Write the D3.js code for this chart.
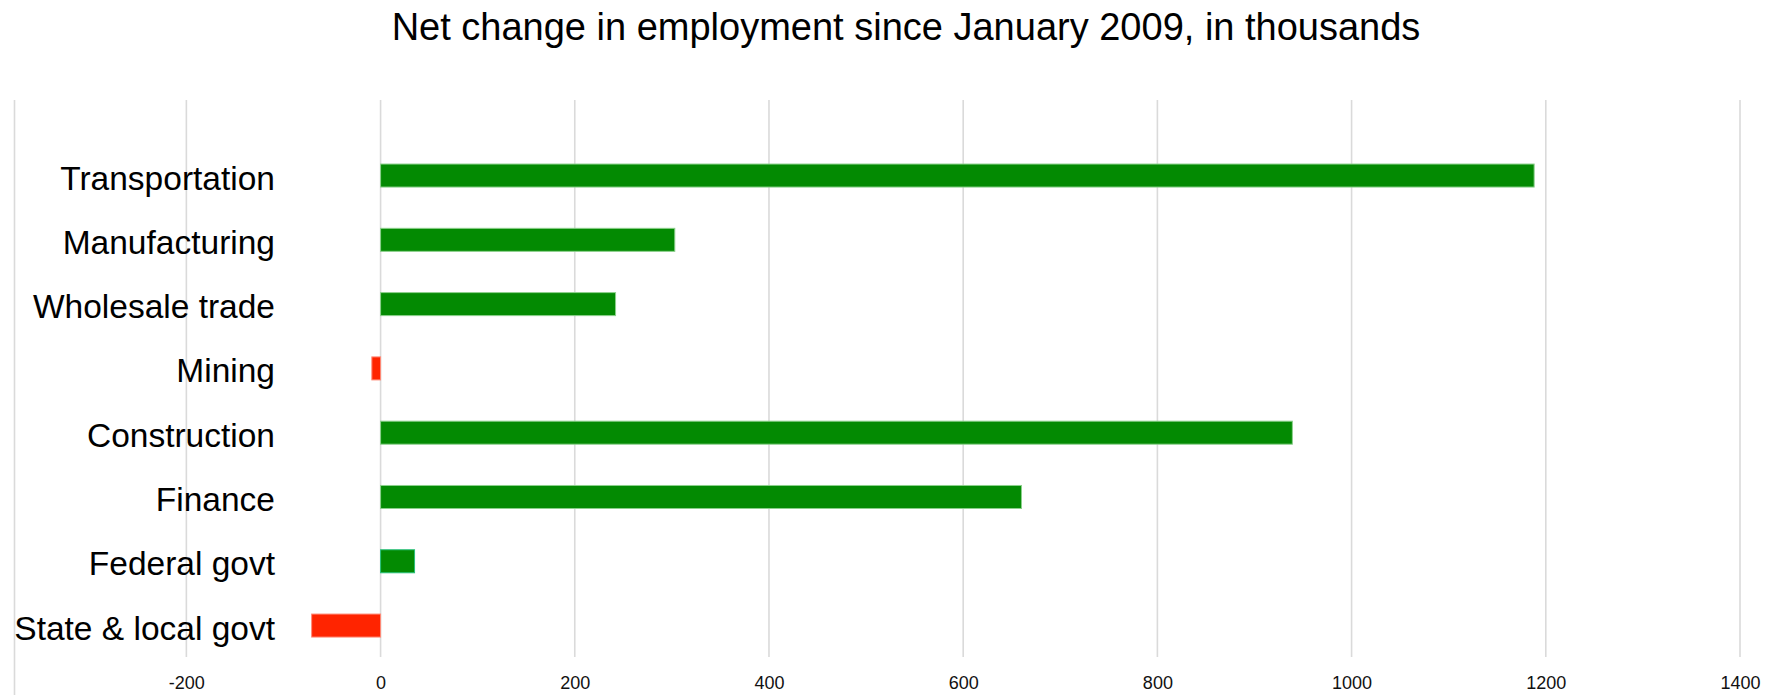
<!DOCTYPE html>
<html>
<head>
<meta charset="utf-8">
<script src="https://cdn.jsdelivr.net/npm/d3@7"></script>
<style>
    body { margin: 0; background: #fff; }
    text { font-family: Arial, "Liberation Sans", Helvetica, sans-serif; }
</style>
</head>
<body>
<div class="employment-chart"></div>
<script>
const categories = ["Transportation", "Manufacturing", "Wholesale trade", "Mining",
    "Construction", "Finance", "Federal govt", "State & local govt"]
const netChange = [1188, 303, 242, -9, 939, 660, 35, -71]
const tickValues = [-200, 0, 200, 400, 600, 800, 1000, 1200, 1400]
const title = "Net change in employment since January 2009, in thousands"

const width = 1775
const height = 695

const data = categories.map((c, i) => ({name: c, value: netChange[i]}))

const svg = d3.select(".employment-chart").append("svg")
    .attr("width", width)
    .attr("height", height)
    .attr("viewBox", [0, 0, width, height])

const x = d3.scaleLinear()
    .domain([-377, 1400])
    .range([14.5, 1740])

const y = d3.scaleBand()
    .domain(categories)
    .range([143.4, 657.7])
    .paddingInner(0.642)
    .paddingOuter(0.321)

const gridTop = 100
const gridBottom = 657

// left edge line runs to the bottom of the page
svg.append("line")
    .attr("x1", x.range()[0]).attr("x2", x.range()[0])
    .attr("y1", gridTop).attr("y2", height)
    .style("stroke", "#dadada")
    .style("stroke-width", 1.6)

svg.append("g")
    .attr("class", "grid")
    .selectAll("line")
    .data(tickValues)
    .join("line")
        .attr("x1", d => x(d)).attr("x2", d => x(d))
        .attr("y1", gridTop).attr("y2", gridBottom)
        .style("stroke", "#dadada")
        .style("stroke-width", 1.6)

const xAxis = svg.append("g")
    .attr("transform", `translate(0,${gridBottom})`)
    .call(d3.axisBottom(x)
        .tickValues(tickValues)
        .tickFormat(d => String(d))
        .tickSize(0)
        .tickPadding(19))

xAxis.select(".domain").remove()
xAxis.selectAll("text")
    .attr("font-size", 18)
    .attr("font-family", "Arial, 'Liberation Sans', sans-serif")
    .style("fill", "#111")

const fillColor = d => d.value < 0 ? "#ff2400" : "#038a02"
const strokeColor = d => {
    if (d.value < 0) return "#ff8a78"
    return d.name === "Federal govt" ? "#27c07a" : "#8cd08c"
}

svg.append("g")
    .attr("class", "bars")
    .selectAll("rect")
    .data(data)
    .join("rect")
        .attr("x", d => x(Math.min(0, d.value)))
        .attr("y", d => y(d.name))
        .attr("width", d => Math.abs(x(d.value) - x(0)))
        .attr("height", y.bandwidth())
        .style("fill", fillColor)
        .style("stroke", strokeColor)
        .style("stroke-width", 1)

svg.append("g")
    .attr("class", "labels")
    .selectAll("text")
    .data(categories)
    .join("text")
        .attr("x", 275)
        .attr("y", d => y(d) + y.bandwidth() / 2)
        .attr("dy", "0.42em")
        .attr("text-anchor", "end")
        .attr("font-size", 33.5)
        .style("fill", "#000")
        .text(d => d)

svg.append("text")
    .attr("x", 906)
    .attr("y", 40)
    .attr("text-anchor", "middle")
    .attr("font-size", 38)
    .style("fill", "#000")
    .text(title)
</script>
</body>
</html>
